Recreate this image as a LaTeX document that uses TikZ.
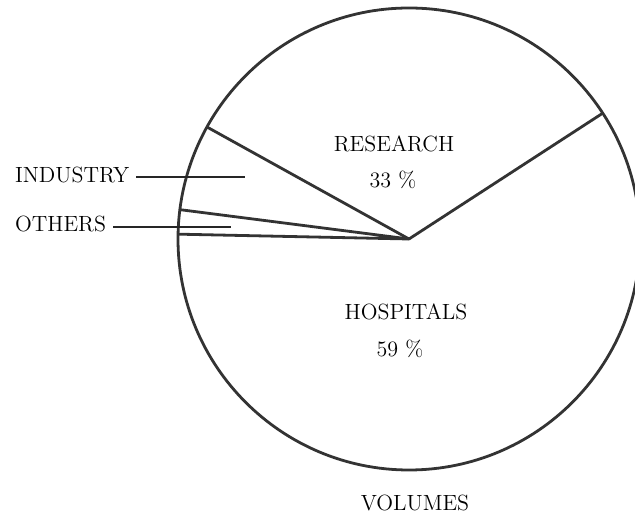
\documentclass[tikz,border=0pt]{standalone}
\usetikzlibrary{positioning,calc}
\begin{document}
\begin{tikzpicture}[x=0.5pt,y=0.5pt,
slice/.style={draw=black!80,line width=1.4pt,line join=round},
leader/.style={draw=black!85,line width=0.7pt},
lbl/.style={font=\fontsize{11}{13}\selectfont},
]
\useasboundingbox (0,0) rectangle (635,518);
\coordinate (c) at (409,279);
\draw[slice] (c) circle (231);
% slice borders
\coordinate (rh) at ($(c)+(33:231)$);
\coordinate (ri) at ($(c)+(151:231)$);
\coordinate (io) at ($(c)+(172.7:231)$);
\coordinate (oh) at ($(c)+(178.8:231)$);
\draw[slice] (rh) -- (c) -- (ri);
\draw[slice] (io) -- (c) -- (oh);
% labels
\node (res) [lbl] at (394,374) {RESEARCH};
\node (resp) [lbl] at (393,338) {33 \%};
\node (hos) [lbl] at (406,206) {HOSPITALS};
\node (hosp) [lbl] at (400,169) {59 \%};
\node (vol) [lbl] at (415,15) {VOLUMES};
\node (ind) [lbl,anchor=west] at (8,343) {INDUSTRY};
\node (oth) [lbl,anchor=west] at (8,294) {OTHERS};
\coordinate (indend) at (245,341);
\coordinate (othend) at (231,291);
\draw[leader] (ind.east|-indend) -- (indend);
\draw[leader] (oth.east|-othend) -- (othend);
\end{tikzpicture}
\end{document}
